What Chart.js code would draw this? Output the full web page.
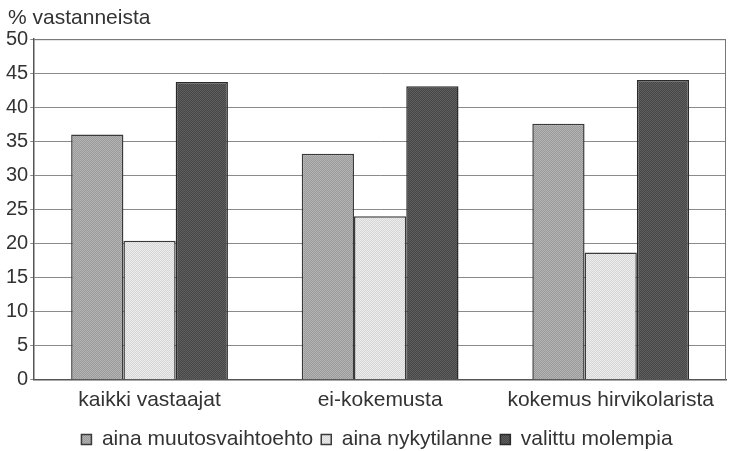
<!DOCTYPE html>
<html>
<head>
<meta charset="utf-8">
<script src="https://cdn.jsdelivr.net/npm/chart.js@4/dist/chart.umd.min.js"></script>
<style>
  html, body { margin: 0; padding: 0; background: #fff; }
  #wrap { width: 730px; height: 451px; }
</style>
</head>
<body>
<div id="wrap"><canvas id="chart" width="730" height="451"></canvas></div>
<script>
const categories = ['kaikki vastaajat', 'ei-kokemusta', 'kokemus hirvikolarista'];
const muutos = [36.0, 33.2, 37.6];
const nykytilanne = [20.4, 24.0, 18.7];
const molempia = [43.7, 43.1, 44.0];
const seriesNames = ['aina muutosvaihtoehto', 'aina nykytilanne', 'valittu molempia'];

// halftone-like fill, like the printed original
function dots(base, dot) {
    const c = document.createElement('canvas');
    c.width = 2; c.height = 2;
    const g = c.getContext('2d');
    g.fillStyle = base; g.fillRect(0, 0, 2, 2);
    g.fillStyle = dot; g.fillRect(0, 0, 1, 1); g.fillRect(1, 1, 1, 1);
    return g.createPattern(c, 'repeat');
}

const family = 'Liberation Sans, Arial, sans-serif';
const labelFont = { family: family, size: 21, weight: 'normal' };
const tickFont = { family: family, size: 20, weight: 'normal' };

document.addEventListener('DOMContentLoaded', function() {
    const ctx = document.getElementById('chart').getContext('2d');
    const frame = {
        id: 'frame',
        afterLayout(chart) {
            // nudge title and legend a bit to the right like in the original
            chart.titleBlock.left += 4;
            chart.titleBlock.right += 4;
            chart.legend.left += 24;
        },
        afterDraw(chart) {
            const a = chart.chartArea, c = chart.ctx;
            c.save();
            c.strokeStyle = '#777';
            c.lineWidth = 1;
            c.beginPath();
            c.moveTo(a.left, a.top + 0.5); c.lineTo(a.right, a.top + 0.5);
            c.moveTo(a.right - 0.5, a.top); c.lineTo(a.right - 0.5, a.bottom);
            c.stroke();
            c.restore();
        }
    };
    new Chart(ctx, {
        type: 'bar',
        data: {
            labels: categories,
            datasets: [{
                label: seriesNames[0],
                data: muutos,
                backgroundColor: dots('#9a9a9a', '#b4b4b4'),
                borderColor: '#3a3a3a',
                borderWidth: 1.5
            }, {
                label: seriesNames[1],
                data: nykytilanne,
                backgroundColor: dots('#d6d6d6', '#ececec'),
                borderColor: '#3a3a3a',
                borderWidth: 1.5
            }, {
                label: seriesNames[2],
                data: molempia,
                backgroundColor: dots('#474747', '#5e5e5e'),
                borderColor: '#2a2a2a',
                borderWidth: 1.5
            }]
        },
        options: {
            responsive: false,
            animation: false,
            layout: { padding: { left: 4, right: 4, top: 0, bottom: -9 } },
            datasets: { bar: { categoryPercentage: 0.68, barPercentage: 1.0 } },
            plugins: {
                title: {
                    display: true,
                    text: '% vastanneista',
                    align: 'start',
                    color: '#333',
                    font: labelFont,
                    padding: { top: 6, bottom: 8 }
                },
                legend: {
                    position: 'bottom',
                    labels: {
                        color: '#333',
                        font: { family: family, size: 21, weight: 'normal', lineHeight: 1.6 },
                        boxWidth: 10,
                        boxHeight: 10,
                        padding: 8
                    }
                },
                tooltip: { enabled: false }
            },
            scales: {
                x: {
                    grid: { display: false, drawTicks: false },
                    border: { color: '#555', width: 1.5 },
                    ticks: { color: '#333', font: labelFont, padding: 8 }
                },
                y: {
                    min: 0,
                    max: 50,
                    ticks: { stepSize: 5, color: '#333', font: tickFont, padding: 2 },
                    grid: { color: '#8a8a8a', lineWidth: 1, drawTicks: true, tickLength: 4 },
                    border: { color: '#555', width: 1.5 }
                }
            }
        },
        plugins: [frame]
    });
});
</script>
</body>
</html>
